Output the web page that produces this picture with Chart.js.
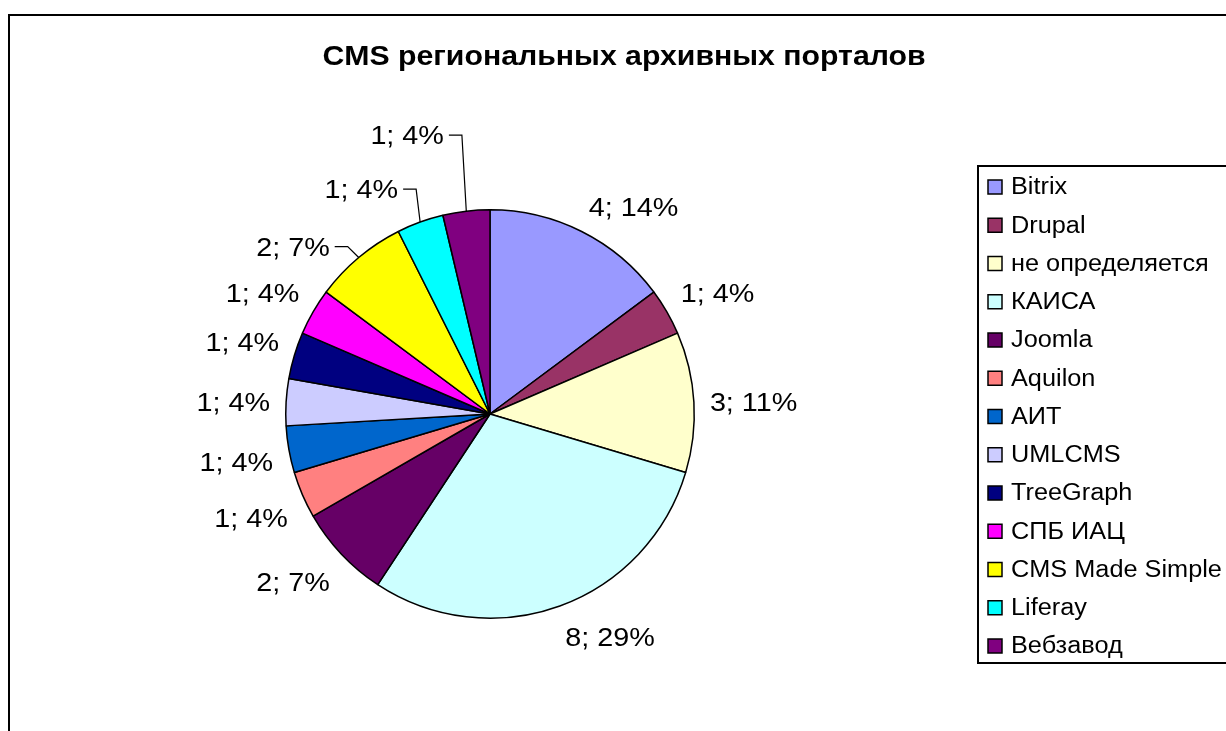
<!DOCTYPE html>
<html>
<head>
<meta charset="utf-8">
<script src="https://cdn.jsdelivr.net/npm/chart.js@4.4.0/dist/chart.umd.min.js"></script>
<style>
body { margin: 0; background: #fff; }
canvas { display: block; }
</style>
</head>
<body>
<canvas id="myChart" width="1226" height="731"></canvas>
<script>
// data
var cmsNames = ['Bitrix', 'Drupal', 'не определяется', 'КАИСА', 'Joomla', 'Aquilon', 'АИТ',
  'UMLCMS', 'TreeGraph', 'СПБ ИАЦ', 'CMS Made Simple', 'Liferay', 'Вебзавод'];
var siteCounts = [4, 1, 3, 8, 2, 1, 1, 1, 1, 1, 2, 1, 1];
var percentLabels = [14, 4, 11, 29, 7, 4, 4, 4, 4, 4, 7, 4, 4];
var sliceColors = ['#9999FF', '#993366', '#FFFFCC', '#CCFFFF', '#660066', '#FF8080', '#0066CC',
  '#CCCCFF', '#000080', '#FF00FF', '#FFFF00', '#00FFFF', '#800080'];
var chartTitle = 'CMS региональных архивных порталов';

var FONT = '"Liberation Sans", Arial, sans-serif';

// text drawn a little wider than normal, like the excel export
function wideText(ctx, text, x, y, align, stretch) {
  var w = ctx.measureText(text).width * stretch;
  var left = x;
  if (align === 'center') left = x - w / 2;
  if (align === 'right') left = x - w;
  ctx.save();
  ctx.translate(left, y);
  ctx.scale(stretch, 1);
  ctx.textAlign = 'left';
  ctx.fillText(text, 0, 0);
  ctx.restore();
  return w;
}

function clamp(v) { return Math.max(-1, Math.min(1, v)); }

var excelLook = {
  id: 'excelLook',
  beforeDraw: function(chart) {
    var ctx = chart.ctx;
    ctx.save();
    ctx.fillStyle = '#fff';
    ctx.fillRect(0, 0, chart.width, chart.height);
    ctx.strokeStyle = '#000';
    ctx.lineWidth = 2;
    ctx.strokeRect(9, 15, 1300, 800);
    // title
    ctx.fillStyle = '#000';
    ctx.font = 'bold 28px ' + FONT;
    ctx.textBaseline = 'middle';
    wideText(ctx, chartTitle, 624, 57, 'center', 1.08);
    ctx.restore();
  },
  afterDatasetsDraw: function(chart) {
    var ctx = chart.ctx;
    var meta = chart.getDatasetMeta(0);
    var ds = chart.data.datasets[0];
    ctx.save();
    ctx.font = '25px ' + FONT;
    ctx.textBaseline = 'middle';
    ctx.fillStyle = '#000';
    ctx.strokeStyle = '#000';
    ctx.lineWidth = 1.2;
    var lastLeaderY = null;
    meta.data.forEach(function(arc, i) {
      var p = arc.getProps(['x', 'y', 'startAngle', 'endAngle', 'outerRadius'], true);
      var mid = (p.startAngle + p.endAngle) / 2;
      var R = p.outerRadius;
      var txt = ds.data[i] + '; ' + percentLabels[i] + '%';
      var w = ctx.measureText(txt).width * 1.15;
      var h = 27;
      var fromTop = (mid + Math.PI / 2) * 180 / Math.PI;
      var lx, ly;
      if (fromTop > 310) {
        // crowded slices at top left get a leader line
        var a = mid - 10 * Math.PI / 180;
        var d = R + 53;
        lx = p.x + d * Math.cos(a);
        ly = p.y + d * Math.sin(a);
        if (lastLeaderY !== null && lastLeaderY - ly < 54) {
          d = (p.y - (lastLeaderY - 54)) / -Math.sin(a);
          lx = p.x + d * Math.cos(a);
          ly = p.y + d * Math.sin(a);
        }
        lastLeaderY = ly;
        var ex = p.x + R * Math.cos(mid);
        var ey = p.y + R * Math.sin(mid);
        var sx = lx + w / 2 + 5;
        ctx.beginPath();
        ctx.moveTo(sx, ly - 2);
        ctx.lineTo(sx + 13, ly - 2);
        ctx.lineTo(ex, ey);
        ctx.stroke();
      } else {
        // nearest corner of the label box sits just outside the rim
        var g = R + 16;
        lx = p.x + g * Math.cos(mid) + (w / 2) * clamp(3 * Math.cos(mid));
        ly = p.y + g * Math.sin(mid) + (h / 2) * clamp(3 * Math.sin(mid)) + 5;
      }
      wideText(ctx, txt, lx, ly, 'center', 1.15);
    });
    ctx.restore();
  },
  afterDraw: function(chart) {
    var ctx = chart.ctx;
    var ds = chart.data.datasets[0];
    ctx.save();
    ctx.strokeStyle = '#000';
    ctx.lineWidth = 2;
    ctx.strokeRect(978, 166, 300, 497);
    ctx.font = '23px ' + FONT;
    ctx.textBaseline = 'middle';
    chart.data.labels.forEach(function(name, i) {
      var y = 187 + i * 38.25;
      ctx.fillStyle = ds.backgroundColor[i];
      ctx.fillRect(988, y - 7, 14, 14);
      ctx.lineWidth = 1.5;
      ctx.strokeRect(988, y - 7, 14, 14);
      ctx.fillStyle = '#000';
      wideText(ctx, name, 1011, y + 1, 'left', 1.1);
    });
    ctx.restore();
  }
};

var ctx = document.getElementById('myChart').getContext('2d');
var chart = new Chart(ctx, {
  type: 'pie',
  data: {
    labels: cmsNames,
    datasets: [{
      data: siteCounts,
      backgroundColor: sliceColors,
      borderColor: '#000',
      borderWidth: 1.5
    }]
  },
  options: {
    responsive: false,
    animation: false,
    devicePixelRatio: 1,
    events: [],
    layout: { padding: { left: 285, top: 209, right: 531, bottom: 112 } },
    plugins: {
      legend: { display: false },
      title: { display: false },
      tooltip: { enabled: false }
    }
  },
  plugins: [excelLook]
});
</script>
</body>
</html>
